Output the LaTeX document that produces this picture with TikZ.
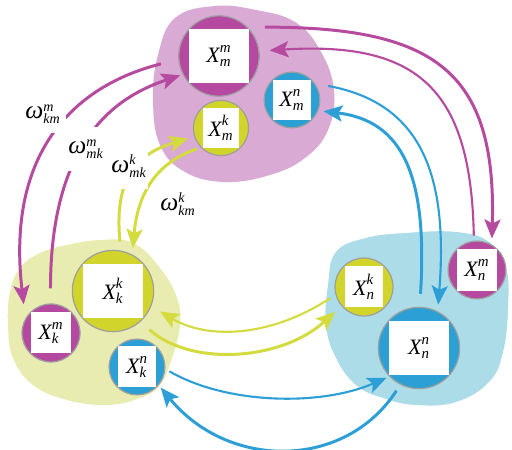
\documentclass[tikz,border=0pt]{standalone}
\usepackage{fontspec}
\usepackage{tikz}
\usetikzlibrary{arrows.meta}

\newfontfamily\timesf{Liberation Serif}

\definecolor{magC}{HTML}{B5489F}
\definecolor{magA}{HTML}{B54A9E}
\definecolor{magBlob}{HTML}{D9AAD4}
\definecolor{yelC}{HTML}{D1D52B}
\definecolor{yelA}{HTML}{D3DB3E}
\definecolor{yelBlob}{HTML}{E9ECB0}
\definecolor{bluC}{HTML}{2C9FD5}
\definecolor{bluA}{HTML}{2E9FD6}
\definecolor{bluBlob}{HTML}{ABDCE8}

\setlength{\fboxsep}{0pt}
% white label card laid on a state disc
\newcommand{\card}[3]{\colorbox{white}{\parbox[c][#2][c]{#1}{\centering #3}}}
% italic symbol with stacked scripts: size, script size, base, sub, sup
\newcommand{\sym}[5]{$\mbox{\fontsize{#1}{#1}\timesf\itshape #3}_{\mbox{\fontsize{#2}{#2}\timesf\itshape #4}}^{\mbox{\fontsize{#2}{#2}\timesf\itshape #5}}$}
\newcommand{\st}[2]{\sym{12.5}{8.5}{X}{#1}{#2}}
\newcommand{\wgt}[2]{\sym{14.5}{8}{ω}{#1}{#2}}

\begin{document}
\begin{tikzpicture}[
	x=0.02cm,
	y=0.02cm,
	disc/.style={circle, fill=#1, draw=gray!75, line width=0.7pt, inner sep=0pt},
	wtag/.style={fill=white, inner sep=0pt},
	link/.style={draw=#1, line width=1.7pt, -{Stealth[length=0.38cm, width=0.32cm, inset=0.08cm]}},
	thinlink/.style={link=#1, line width=1.2pt}
]

\useasboundingbox (0,0) rectangle (512,450);

% clusters
\fill[magBlob] plot[smooth cycle, tension=0.7] coordinates {(153,350) (158,395) (175,432) (215,444) (256,440) (295,428) (320,400) (334,360) (328,320) (305,292) (270,275) (225,268) (185,278) (160,305)};
\fill[yelBlob] plot[smooth cycle, tension=0.7] coordinates {(10,158) (20,182) (40,197) (67,205) (100,210) (133,207) (160,182) (177,152) (180,125) (172,92) (160,65) (140,52) (107,45) (67,50) (33,65) (13,92) (8,125)};
\fill[bluBlob] plot[smooth cycle, tension=0.7] coordinates {(336,198) (366,212) (406,217) (456,218) (489,208) (506,182) (508,142) (503,98) (489,68) (456,48) (416,45) (383,52) (356,65) (336,92) (326,125) (328,165)};

% states
\node[disc=magC, minimum size=1.56cm] (mm) at (219,394) {\card{1.2cm}{1.08cm}{\st{m}{m}}};
\node[disc=bluC, minimum size=0.96cm] (mn) at (292,350) {\card{0.76cm}{0.82cm}{\st{m}{n}}};
\node[disc=yelC, minimum size=0.94cm] (mk) at (221,322) {\card{0.74cm}{0.82cm}{\st{m}{k}}};
\node[disc=yelC, minimum size=1.6cm] (kk) at (113,159) {\card{1.22cm}{1.08cm}{\st{k}{k}}};
\node[disc=magC, minimum size=1.04cm] (km) at (51,117) {\card{0.82cm}{0.82cm}{\st{k}{m}}};
\node[disc=bluC, minimum size=0.94cm] (kn) at (137,83) {\card{0.76cm}{0.82cm}{\st{k}{n}}};
\node[disc=yelC, minimum size=1.16cm] (nk) at (364,163) {\card{0.76cm}{0.82cm}{\st{n}{k}}};
\node[disc=bluC, minimum size=1.6cm] (nn) at (419,102) {\card{1.22cm}{1.08cm}{\st{n}{n}}};
\node[disc=magC, minimum size=0.96cm] (nm) at (477,180) {\card{0.8cm}{0.84cm}{\st{n}{m}}};

% m <-> k
\draw[link=magA, shorten <=0.36cm, shorten >=0.28cm] (mm.185) .. controls +(-100,-25) and +(-20,170) .. (km.150);
\draw[link=magA, shorten <=0.3cm, shorten >=0.05cm] (km.91) .. controls +(0,170) and +(-60,-20) .. (mm.207);
\draw[link=yelA, shorten <=0.18cm, shorten >=0.12cm] (kk.79) .. controls +(-8,80) and +(-50,-15) .. (mk.198);
\draw[link=yelA, shorten <=0.08cm, shorten >=0.13cm] (mk.224) .. controls +(-45,-15) and +(5,60) .. (kk.62);

% m <-> n
\draw[link=magA, shorten <=0.34cm, shorten >=0.12cm] (mm.45) .. controls +(185,0) and +(5,175) .. (nm.60);
\draw[thinlink=magA, shorten <=0.1cm, shorten >=0.2cm] (nm.96) .. controls +(-3,150) and +(160,10) .. (mm.7);
\draw[thinlink=bluA, shorten <=0.26cm, shorten >=0.13cm] (mn.35) .. controls +(110,-20) and +(10,130) .. (nn.63);
\draw[link=bluA, shorten <=0.26cm, shorten >=0.1cm] (nn.89) .. controls +(8,130) and +(85,-10) .. (mn.338);

% k <-> n
\draw[thinlink=yelA, shorten <=0.12cm, shorten >=0.2cm] (nk.195) .. controls +(-60,-40) and +(60,-35) .. (kk.338);
\draw[link=yelA, shorten <=0.24cm, shorten >=0.17cm] (kk.312) .. controls +(50,-45) and +(-60,-55) .. (nk.220);
\draw[thinlink=bluA, shorten <=0.09cm, shorten >=0.06cm] (kn.356) .. controls +(60,-35) and +(-70,-30) .. (nn.224);
\draw[link=bluA, shorten <=0.14cm, shorten >=0.06cm] (nn.243) .. controls +(-55,-85) and +(70,-85) .. (kn.320);

% weights
\node[wtag, minimum width=0.92cm, minimum height=0.76cm] (wkmm) at (43,336) {\wgt{km}{m}};
\node[wtag, minimum width=0.86cm, minimum height=0.9cm] (wmkm) at (86,301) {\wgt{mk}{m}};
\node[wtag, minimum width=0.76cm, minimum height=0.92cm] (wmkk) at (129,284) {\wgt{mk}{k}};
\node[wtag, minimum width=0.9cm, minimum height=0.9cm] (wkmk) at (178,246) {\wgt{km}{k}};

\end{tikzpicture}
\end{document}
